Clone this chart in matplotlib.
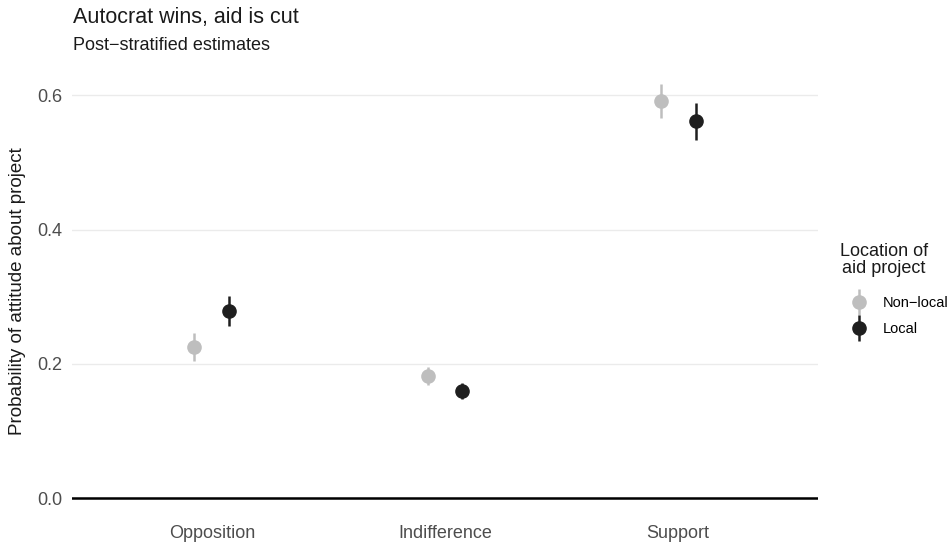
import numpy as np
import matplotlib
matplotlib.use("Agg")
import matplotlib.pyplot as plt
from matplotlib.container import ErrorbarContainer
from matplotlib.legend_handler import HandlerErrorbar

plt.rcParams['font.family'] = ['Liberation Sans', 'DejaVu Sans']

# data
categories = ["Opposition", "Indifference", "Support"]
groups = ["Non\u2212local", "Local"]
estimate_nonlocal = [0.225, 0.182, 0.592]
lower_nonlocal = [0.205, 0.169, 0.566]
upper_nonlocal = [0.246, 0.195, 0.617]
estimate_local = [0.279, 0.159, 0.561]
lower_local = [0.256, 0.147, 0.534]
upper_local = [0.301, 0.172, 0.588]
y_ticks = [0.0, 0.2, 0.4, 0.6]

colors = ["#BEBEBE", "#1F1F1F"]
dodge = 0.075

fig = plt.figure(figsize=(9.53, 5.47), dpi=100)
ax = fig.add_axes([72 / 953, 1 - 519 / 547, (818 - 72) / 953, (519 - 63) / 547])

x = np.arange(1, len(categories) + 1)
series = [
    (estimate_nonlocal, lower_nonlocal, upper_nonlocal),
    (estimate_local, lower_local, upper_local),
]
handles = []
for i, (est, lo, hi) in enumerate(series):
    est = np.array(est)
    yerr = [est - np.array(lo), np.array(hi) - est]
    xs = x + (i * 2 - 1) * dodge
    h = ax.errorbar(xs, est, yerr=yerr, fmt="o", color=colors[i], ms=9.5,
                    elinewidth=1.8, capsize=0, zorder=3, label=groups[i])
    handles.append(h)

ax.axhline(0, color="black", lw=1.8, zorder=2)

ax.set_xlim(0.4, 3.6)
ax.set_ylim(-0.031, 0.648)
ax.set_xticks(x)
ax.set_xticklabels(categories)
ax.set_yticks(y_ticks)
ax.set_yticklabels([f"{v:.1f}" for v in y_ticks])
ax.tick_params(length=0, labelsize=13, labelcolor="#4D4D4D", pad=7)
ax.tick_params(axis="x", pad=4)
ax.grid(axis="y", color="#EBEBEB", lw=1)
ax.set_axisbelow(True)
for s in ax.spines.values():
    s.set_visible(False)

ax.set_ylabel("Probability of attitude about project", fontsize=13.5, color="#1A1A1A", labelpad=8)

fig.text(73 / 953, 1 - 18 / 547, "Autocrat wins, aid is cut", fontsize=15.5,
         color="#1A1A1A", va="center", ha="left")
fig.text(73 / 953, 1 - 45 / 547, "Post\u2212stratified estimates", fontsize=13,
         color="#1A1A1A", va="center", ha="left")

# legend: title as separate text, entries below
fig.text(884 / 953, 1 - 260 / 547, "Location of\naid project", fontsize=13,
         color="#1A1A1A", ha="center", va="center", linespacing=1.05)
leg = fig.legend(handles=handles, labels=groups, loc="center left",
                 bbox_to_anchor=(852 / 953, 1 - 316 / 547), frameon=False,
                 fontsize=10.5, handlelength=1.0, handletextpad=1.1,
                 labelspacing=0.85, borderpad=0, borderaxespad=0,
                 handler_map={ErrorbarContainer: HandlerErrorbar(yerr_size=0.9)})

fig.savefig("out.png", dpi=100)
